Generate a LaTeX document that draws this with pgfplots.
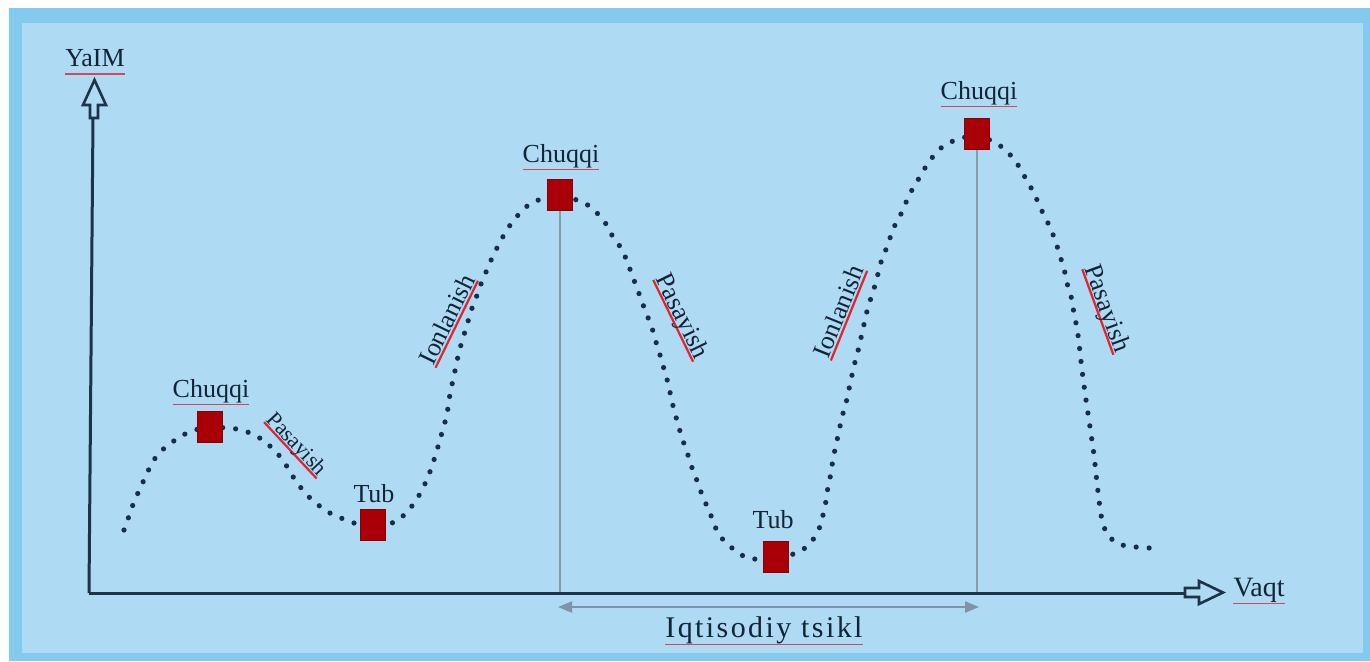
\documentclass[border=0pt]{standalone}
\usepackage{pgfplots}
\pgfplotsset{compat=1.18}
\usepackage{fontspec}
\setmainfont{Liberation Serif}
\usetikzlibrary{arrows.meta}
\definecolor{outerblue}{HTML}{84CAEE}
\definecolor{innerblue}{HTML}{AEDAF4}
\definecolor{txt}{HTML}{132436}
\definecolor{dotc}{HTML}{182E48}
\definecolor{axc}{HTML}{1D3448}
\definecolor{sqfill}{HTML}{A80006}
\definecolor{sqdraw}{HTML}{8A0005}
\definecolor{ulred}{HTML}{D2485A}
\definecolor{brred}{HTML}{E3232E}
\definecolor{vgray}{HTML}{8A9BA8}
\definecolor{agray}{HTML}{7F93A4}
\newcommand{\sul}[2][4pt]{\setbox0\hbox{#2}\rlap{\color{ulred}\rule[-#1]{\wd0}{0.6pt}}\box0}
\newcommand{\rul}[1]{\setbox0\hbox{#1}\rlap{\color{brred}\rule[-1.8pt]{\wd0}{1.1pt}}\box0}
\begin{document}
\begin{tikzpicture}
\begin{axis}[width=685pt,height=330.5pt,scale only axis,
  xmin=0,xmax=1370,ymin=0,ymax=661,y dir=reverse,
  hide axis,clip=false]
% background
\fill[white] (axis cs:0,0) rectangle (axis cs:1370,661);
\fill[outerblue] (axis cs:9,8) rectangle (axis cs:1370,661);
\fill[innerblue] (axis cs:22,23) rectangle (axis cs:1363,653);
% vertical gray lines
\addplot[vgray, line width=0.8pt] coordinates {(560,195) (560,593)};
\addplot[vgray, line width=0.8pt] coordinates {(977,134) (977,593)};
% cycle arrow
\addplot[agray, line width=1.1pt, {Triangle[length=7pt,width=5.5pt]}-{Triangle[length=7pt,width=5.5pt]}] coordinates {(558,607) (979,607)};
% axes
\addplot[axc, line width=1.5pt] coordinates {(89,593) (1185,593)};
\addplot[axc, line width=1.5pt] coordinates {(89,593) (93,118)};
\draw[axc, line width=1.3pt, line join=miter, fill=innerblue] (axis cs:90,118) -- (axis cs:90,105) -- (axis cs:83,105) -- (axis cs:94.5,80) -- (axis cs:106,105) -- (axis cs:98,105) -- (axis cs:98,118) -- cycle;
\draw[axc, line width=1.3pt, line join=miter, fill=innerblue] (axis cs:1185,588) -- (axis cs:1199,588) -- (axis cs:1199,581) -- (axis cs:1223,592.5) -- (axis cs:1199,604) -- (axis cs:1199,597) -- (axis cs:1185,597) -- cycle;
% dotted curve
\addplot[dotc, line width=2.6pt, line cap=round, dash pattern=on 0pt off 6.5pt, smooth, tension=0.4] coordinates {
(124,530)(129,516)(134,502)(143,482)(152,463)(160,452)(171,443)(183,435)(195,430)(210,427)
(237,429)(250,433)(263,440)(273,449)(283,460)(290,472)(298,484)(307,495)(317,504)(328,512)(341,518)(354,523)(373,526)
(395,522)(406,513)(415,502)(422,490)(428,477)(433,463)(437,450)(441,436)(445,422)(448,408)(450,394)(453,380)(456,366)(459,352)(463,338)(467,325)(471,311)(476,298)(481,284)(486,272)(492,258)(498,246)(505,233)(513,221)(522,211)(533,202)(560,195)
(586,204)(597,213)(606,224)(613,237)(621,248)(627,261)(632,275)(637,288)(642,302)(647,315)(652,328)(656,342)(660,355)(664,369)(668,383)(671,397)(674,410)(678,424)(682,438)(687,452)(691,465)(696,478)(701,492)(706,504)(712,518)(717,531)(725,542)(736,551)(748,558)(776,560)
(802,550)(812,541)(819,529)(823,515)(826,501)(828,487)(831,473)(833,459)(836,445)(839,431)(842,417)(846,403)(849,389)(852,375)(855,362)(859,347)(862,333)(865,320)(868,307)(873,292)(877,278)(880,265)(885,252)(890,238)(895,225)(902,212)(907,200)(913,188)(921,175)(928,163)(937,152)(948,143)(977,135)
(1002,147)(1012,157)(1020,168)(1027,181)(1034,193)(1040,207)(1046,219)(1052,232)(1057,246)(1061,259)(1065,273)(1068,287)(1072,300)(1074,314)(1077,328)(1079,343)(1082,370)(1086,400)(1090,427)(1094,455)(1097,483)(1101,515)(1106,532)(1114,541)(1126,546)(1150,548)
};
% squares
\addplot[only marks, mark=square*, mark size=6.3pt, mark options={fill=sqfill, draw=sqdraw, line width=0.6pt, yscale=1.22}] coordinates {(210,427) (373,525) (560,195) (776,557) (977,134)};
% labels
\begin{scope}[every node/.style={text=txt, font=\fontsize{13}{15}\selectfont, inner sep=0pt}]
\node at (axis cs:95,62) {\sul{YaIM}};
\node[font=\fontsize{14}{16}\selectfont] at (axis cs:1259,591) {\sul{Vaqt}};
\node at (axis cs:211,392) {\sul{Chuqqi}};
\node at (axis cs:561,157) {\sul{Chuqqi}};
\node at (axis cs:979,94) {\sul{Chuqqi}};
\node at (axis cs:374,494) {Tub};
\node at (axis cs:773,520) {Tub};
\node[font=\fontsize{15}{17}\selectfont\addfontfeature{LetterSpace=8}] at (axis cs:764,631) {\sul[3.8pt]{Iqtisodiy tsikl}};
\node[rotate=64] at (axis cs:448,320) {\rul{Ionlanish}};
\node[rotate=-64] at (axis cs:681,317) {\rul{Pasayish}};
\node[rotate=-47, font=\fontsize{11}{13}\selectfont] at (axis cs:296,445) {\rul{Pasayish}};
\node[rotate=68] at (axis cs:840,312) {\rul{Ionlanish}};
\node[rotate=-70] at (axis cs:1106,309) {\rul{Pasayish}};
\end{scope}
\end{axis}
\end{tikzpicture}
\end{document}
